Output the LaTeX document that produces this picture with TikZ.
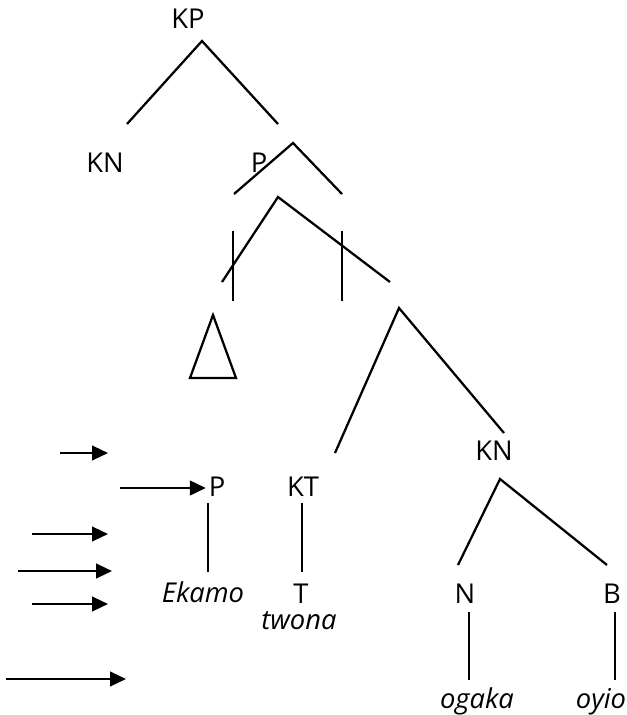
\documentclass[tikz,border=0pt]{standalone}
\usepackage{fontspec}
\setmainfont{Open Sans}
\usetikzlibrary{arrows.meta}

\begin{document}
\begin{tikzpicture}[x=0.75pt, y=-0.75pt,
    lbl/.style = {inner sep=0pt, font=\fontsize{20.5}{24}\selectfont},
    word/.style = {inner sep=0pt, anchor=base, font=\fontsize{20.5}{24}\selectfont\itshape},
    branch/.style = {line width=1.7pt},
    pointer/.style = {line width=1.7pt, -{Triangle[length=12pt, width=11pt]}}]

    \useasboundingbox (0,0) rectangle (626,715);

    % labels
    \node[lbl] (kp) at (188,19) {KP};
    \node[lbl] (kn1) at (105,163) {KN};
    \node[lbl] (p1) at (259,163) {P};
    \node[lbl] (kn2) at (494,451) {KN};
    \node[lbl] (p2) at (217,487) {P};
    \node[lbl] (kt) at (303,487) {KT};
    \node[lbl] (n) at (465,594) {N};
    \node[lbl] (b) at (612,594) {B};
    \node[lbl] (t) at (301,594) {T};
    \node[word] (ekamo) at (203,602) {Ekamo};
    \node[word] (twona) at (299,629) {twona};
    \node[word] (ogaka) at (477,708) {ogaka};
    \node[word] (oyio) at (601,708) {oyio};

    % branch points
    \coordinate (kp-top) at (202,41);
    \coordinate (kp-l) at (127,124);
    \coordinate (kp-r) at (278,124);
    \coordinate (p-top) at (293,143);
    \coordinate (p-l) at (234,194);
    \coordinate (p-r) at (342,194);
    \coordinate (m-top) at (278,197);
    \coordinate (m-l) at (222,282);
    \coordinate (m-r) at (390,282);
    \coordinate (bar1-a) at (233,231);
    \coordinate (bar1-b) at (233,301);
    \coordinate (bar2-a) at (342,231);
    \coordinate (bar2-b) at (342,301);
    \coordinate (tri-top) at (213,315);
    \coordinate (tri-l) at (190,378);
    \coordinate (tri-r) at (236,378);
    \coordinate (f-top) at (399,308);
    \coordinate (f-l) at (335,453);
    \coordinate (f-r) at (504,433);
    \coordinate (kn-top) at (500,479);
    \coordinate (kn-l) at (458,565);
    \coordinate (kn-r) at (607,565);

    \draw[branch] (kp-l) -- (kp-top) -- (kp-r);
    \draw[branch] (p-l) -- (p-top) -- (p-r);
    \draw[branch] (m-l) -- (m-top) -- (m-r);
    \draw[branch] (bar1-a) -- (bar1-b);
    \draw[branch] (bar2-a) -- (bar2-b);
    \draw[branch] (tri-top) -- (tri-l) -- (tri-r) -- cycle;
    \draw[branch] (f-l) -- (f-top) -- (f-r);
    \draw[branch] (kn-l) -- (kn-top) -- (kn-r);
    \draw[branch] (208,503) coordinate (p2-a) -- (208,572) coordinate (p2-b);
    \draw[branch] (302,503) coordinate (kt-a) -- (302,572) coordinate (kt-b);
    \draw[branch] (469,612) coordinate (n-a) -- (469,680) coordinate (n-b);
    \draw[branch] (615,612) coordinate (b-a) -- (615,680) coordinate (b-b);

    % arrows
    \coordinate (a1) at (60,453);
    \coordinate (a1e) at (108,453);
    \coordinate (a2) at (120,488);
    \coordinate (a3) at (32,534);
    \coordinate (a3e) at (108,534);
    \coordinate (a4) at (18,571);
    \coordinate (a4e) at (112,571);
    \coordinate (a5) at (32,604);
    \coordinate (a5e) at (108,604);
    \coordinate (a6) at (6,679);
    \coordinate (a6e) at (126,679);

    \draw[pointer] (a1) -- (a1e);
    \draw[pointer] (a2) -- ([xshift=-2pt]p2.west |- a2);
    \draw[pointer] (a3) -- (a3e);
    \draw[pointer] (a4) -- (a4e);
    \draw[pointer] (a5) -- (a5e);
    \draw[pointer] (a6) -- (a6e);

\end{tikzpicture}
\end{document}
